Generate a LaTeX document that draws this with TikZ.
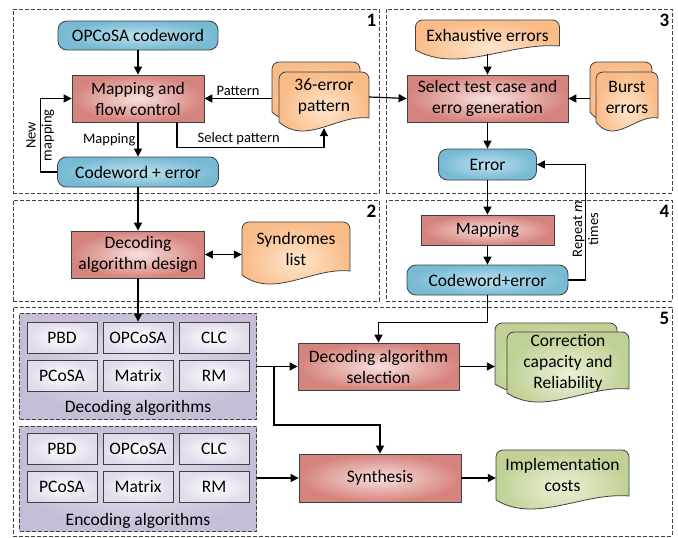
\documentclass[tikz,border=0pt]{standalone}
\usepackage{fontspec}
\setmainfont{Carlito}
\usetikzlibrary{arrows.meta,calc}

\definecolor{bluein}{RGB}{190,224,237}
\definecolor{blueout}{RGB}{118,186,212}
\definecolor{redin}{RGB}{248,224,221}
\definecolor{redout}{RGB}{213,131,125}
\definecolor{orangein}{RGB}{254,230,204}
\definecolor{orangeout}{RGB}{249,187,136}
\definecolor{greenin}{RGB}{234,241,216}
\definecolor{greenout}{RGB}{191,209,148}
\definecolor{purplein}{RGB}{232,227,240}
\definecolor{purpleout}{RGB}{199,189,215}
\definecolor{cellin}{RGB}{255,255,255}
\definecolor{cellout}{RGB}{226,219,235}

\tikzset{
  glow/.style 2 args={inner color=#1, outer color=#2},
  wh/.style 2 args={minimum width=#1pt, minimum height=#2pt},
  redbox/.style={glow={redin}{redout}, draw=black!75, line width=0.8pt, align=center, inner sep=0pt},
  bluebox/.style={glow={bluein}{blueout}, draw=black!75, line width=0.8pt, rounded corners=9pt, align=center, inner sep=0pt},
  orangefill/.style={glow={orangein}{orangeout}, draw=black!75, line width=0.8pt},
  greenfill/.style={glow={greenin}{greenout}, draw=black!75, line width=0.8pt},
  doc/.style={align=center, inner sep=0pt},
  group/.style={glow={purplein}{purpleout}, draw=black!75, dash pattern=on 4pt off 2pt, line width=0.8pt},
  cell/.style={glow={cellin}{cellout}, draw=black!75, line width=0.8pt, wh={70}{31}, inner sep=0pt},
  region/.style={draw=black!75, dash pattern=on 4pt off 2pt, line width=0.8pt},
  num/.style={font=\fontsize{19}{20}\selectfont\bfseries, inner sep=0pt},
  lbl/.style={font=\fontsize{14.5}{16}\selectfont, inner sep=2pt, align=center},
  conn/.style={line width=1.2pt, ->}
}

% wavy document outline: style, centre x, centre y, width, height
\newcommand{\docshape}[5]{%
  \path[#1] (#2-#4/2,#3+#5/2) [rounded corners=7pt] -- ++(0,-#5) -- ++(#4,0)
    [sharp corners] -- ++(0,#5-4)
    .. controls (#2+0.15*#4,#3+#5/2-8) and (#2-0.2*#4,#3+#5/2+24) .. (#2-#4/2,#3+#5/2) -- cycle;}

\begin{document}
\begin{tikzpicture}[x=1pt, y=-1pt, font=\fontsize{17.5}{21}\selectfont, >={Triangle[length=8pt,width=8pt]}]
  \useasboundingbox (0,0) rectangle (678,538);

  % stages
  \node[region, wh={366}{184}] (r1) at (196,101) {};
  \node[region, wh={366}{101}] (r2) at (196,250.5) {};
  \node[region, wh={286}{184}] (r3) at (529,101) {};
  \node[region, wh={286}{101}] (r4) at (529,250.5) {};
  \node[region, wh={659}{229}] (r5) at (342.5,421.5) {};
  \foreach \r in {1,...,5}
    \node[num] (n\r) at ([xshift=-8pt,yshift=-12pt]r\r.north east) {\r};

  % stage 1
  \node[bluebox, wh={160}{29}] (cw) at (138,35.5) {OPCoSA codeword};
  \node[redbox, wh={132}{47}] (map) at (138,98.5) {Mapping and\\flow control};
  \node[bluebox, wh={161}{30}] (cwe) at (138,172) {Codeword + error};
  \docshape{orangefill}{316}{87}{88}{50}
  \node[doc, wh={88}{50}] (patb) at (316,87) {};
  \docshape{orangefill}{324}{97}{90}{50}
  \node[doc, wh={90}{50}] (pat) at (324,97) {36-error\\pattern};

  % stage 2
  \node[redbox, wh={133}{47}] (dad) at (138,254.5) {Decoding\\algorithm design};
  \docshape{orangefill}{296}{248.5}{108}{53}
  \node[doc, wh={108}{53}] (syn) at (296,248.5) {Syndromes\\list};

  % stage 3
  \docshape{orangefill}{487.5}{35}{144}{30}
  \node[doc, wh={144}{30}] (exh) at (487.5,35) {Exhaustive errors};
  \node[redbox, wh={161}{47}] (sel) at (487.5,98.5) {Select test case and\\erro generation};
  \docshape{orangefill}{621}{87}{62}{50}
  \node[doc, wh={62}{50}] (burb) at (621,87) {};
  \docshape{orangefill}{627}{97}{62}{50}
  \node[doc, wh={62}{50}] (bur) at (627,97) {Burst\\errors};
  \node[bluebox, wh={98}{31}] (err) at (487.5,164.5) {Error};

  % stage 4
  \node[redbox, wh={133}{30}] (map2) at (487.5,230) {Mapping};
  \node[bluebox, wh={161}{30}] (cwe2) at (487.5,280) {Codeword+error};

  % stage 5
  \node[group, wh={237}{106}] (dec) at (138,366) {};
  \node[group, wh={237}{105}] (enc) at (138,478.5) {};
  \foreach \t [count=\i] in {PBD,OPCoSA,CLC,PCoSA,Matrix,RM} {
    \pgfmathsetmacro\cx{62+76*mod(\i-1,3)}
    \pgfmathsetmacro\cy{337.5+38*int((\i-1)/3)}
    \node[cell] (d\i) at (\cx,\cy) {\t};
    \node[cell] (e\i) at (\cx,\cy+111.5) {\t};
  }
  \node (decl) at (138,408) {Decoding algorithms};
  \node (encl) at (138,521) {Encoding algorithms};
  \node[redbox, wh={161}{47}] (das) at (378.5,366.5) {Decoding algorithm\\selection};
  \node[redbox, wh={162}{48}] (synth) at (380,478) {Synthesis};
  \docshape{greenfill}{556}{353.5}{122}{61}
  \node[doc, wh={122}{61}] (corb) at (556,353.5) {};
  \docshape{greenfill}{568}{362.5}{122}{61}
  \node[doc, wh={122}{61}] (cor) at (568,362.5) {Correction\\capacity and\\Reliability};
  \docshape{greenfill}{562.5}{475}{133}{50}
  \node[doc, wh={133}{50}] (imp) at (562.5,475) {Implementation\\costs};

  % connections
  \draw[conn] (cw) -- (map);
  \draw[conn] (map) -- node[lbl, left] (lmap) {Mapping} (cwe);
  \draw[conn] (cwe.west) -- ++(-17,0) |- node[lbl, pos=0.25, rotate=90] (lnew) {New\\mapping} (map.west);
  \draw[conn] (patb.west |- map.east) -- node[lbl, above] (lpat) {Pattern} (map.east);
  \draw[conn] ([xshift=39pt]map.south) -- ++(0,25) -| node[lbl, above, pos=0.21] (lsel) {Select pattern} ([yshift=-6pt]pat.south);
  \draw[conn] (pat.east) -- (sel.west);
  \draw[conn] ([yshift=-4pt]exh.south) -- (sel.north);
  \draw[conn] (burb.west |- sel.east) -- (sel.east);
  \draw[conn] (sel) -- (err);
  \draw[conn] (err) -- (map2);
  \draw[conn] (map2) -- (cwe2);
  \draw[conn] (cwe2.east) -- ++(17,0) |- node[lbl, pos=0.22, rotate=90] (lrep) {Repeat \textit{m}\\times} (err.east);
  \draw[conn] (cwe) -- (dad);
  \draw[conn, <->] (dad.east) -- (dad.east -| syn.west);
  \draw[conn] (dad) -- (d2);
  \draw[conn] (cwe2.south) -- ++(0,27) -| (das.north);
  \draw[conn] (dec.east |- das.west) -- (das.west);
  \draw[conn] ([xshift=17pt]dec.east) -- ++(0,59) -| (synth.north);
  \draw[conn] (enc.east |- synth.west) -- (synth.west);
  \draw[conn] (das.east) -- (das.east -| corb.west);
  \draw[conn] (synth.east) -- (synth.east -| imp.west);
\end{tikzpicture}
\end{document}
